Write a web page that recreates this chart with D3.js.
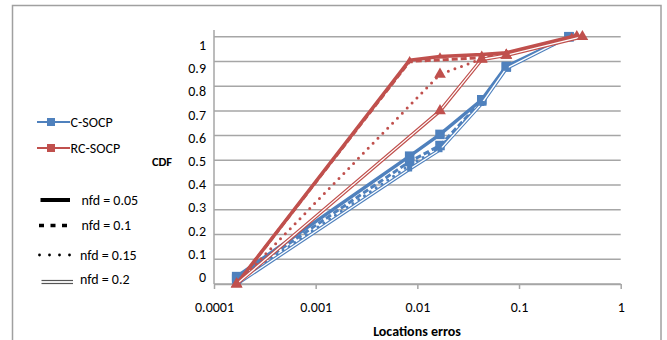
<!DOCTYPE html>
<html>
<head>
<meta charset="utf-8">
<script src="https://cdn.jsdelivr.net/npm/d3@7"></script>
<style>
  body { margin: 0; background: #fff; }
  svg text { font-family: Carlito, Calibri, Lato, "Liberation Sans", sans-serif; fill: #000; }
</style>
</head>
<body>
<svg id="chart"></svg>
<script>
// ---- data ----
const xTicks = [0.0001, 0.001, 0.01, 0.1, 1];
const xTickLabels = ["0.0001", "0.001", "0.01", "0.1", "1"];
const yTicks = [0, 0.1, 0.2, 0.3, 0.4, 0.5, 0.6, 0.7, 0.8, 0.9, 1];
const yTickLabels = ["0", "0.1", "0.2", "0.3", "0.4", "0.5", "0.6", "0.7", "0.8", "0.9", "1"];

const methods = ["C-SOCP", "RC-SOCP"];
const nfdLabels = ["nfd = 0.05", "nfd = 0.1", "nfd = 0.15", "nfd = 0.2"];

// C-SOCP (blue): error values and CDF per nfd
const cSocpErr = [0.000167, 0.0084, 0.0167, 0.043, 0.075, 0.31];
const cSocpCdf005 = [0.03, 0.517, 0.605, 0.745, 0.88, 1.0];
const cSocpCdf01 = [0.02, 0.495, 0.56, 0.74, 0.877, 1.0];
const cSocpCdf015 = [0.01, 0.48, 0.552, 0.735, 0.875, 1.0];
const cSocpCdf02 = [0.0, 0.465, 0.543, 0.73, 0.872, 1.0];

// RC-SOCP (red)
const rcSocpErr005 = [0.000167, 0.0084, 0.0167, 0.043, 0.075, 0.33];
const rcSocpCdf005 = [0, 0.905, 0.92, 0.928, 0.935, 1.0];
const rcSocpErr01 = [0.000167, 0.0084, 0.043, 0.075, 0.35];
const rcSocpCdf01 = [0, 0.9, 0.915, 0.93, 1.0];
const rcSocpErr015 = [0.000167, 0.0167, 0.043, 0.075, 0.37];
const rcSocpCdf015 = [0, 0.848, 0.91, 0.925, 1.0];
const rcSocpErr02 = [0.000167, 0.0167, 0.043, 0.075, 0.42];
const rcSocpCdf02 = [0, 0.70, 0.908, 0.925, 1.0];

const blue = "#4f81bd";
const red = "#c0504d";

const width = 667;
const height = 340;

const svg = d3.select("#chart")
              .attr("width", width)
              .attr("height", height);

// outer frame of the chart area
svg.append("rect")
    .attr("x", 12.5).attr("y", 5.5)
    .attr("width", 648.5).attr("height", 345)
    .attr("fill", "none")
    .attr("stroke", "#a0a0a0")
    .attr("stroke-width", 1.5);

const x = d3.scaleLog().domain([0.0001, 1]).range([214, 620.7]);
const y = d3.scaleLinear().domain([0, 1]).range([284, 36.7]);
// labels in the picture sit a little inside the grid lines
const yLab = d3.scaleLinear().domain([0, 1]).range([277, 45]);

// gridlines
svg.append("g")
    .selectAll("line")
    .data(yTicks)
    .enter()
    .append("line")
    .attr("x1", x(0.0001)).attr("x2", x(1))
    .attr("y1", d => y(d)).attr("y2", d => y(d))
    .attr("stroke", "#a6a6a6")
    .attr("stroke-width", 1.5);

// y axis line
svg.append("line")
    .attr("x1", x(0.0001)).attr("x2", x(0.0001))
    .attr("y1", y(1.027)).attr("y2", y(0))
    .attr("stroke", "#a6a6a6")
    .attr("stroke-width", 1.5);

// x axis with ticks pointing down
const xAxis = d3.axisBottom(x)
                .tickValues(xTicks)
                .tickFormat((d, i) => xTickLabels[i])
                .tickSize(5)
                .tickSizeOuter(0)
                .tickPadding(13);

const gx = svg.append("g")
    .attr("transform", `translate(0, ${y(0)})`)
    .call(xAxis);
gx.select(".domain").attr("stroke", "#a6a6a6").attr("stroke-width", 1.5);
gx.selectAll(".tick line").attr("stroke", "#a6a6a6").attr("stroke-width", 1.5);
gx.selectAll(".tick text")
    .attr("font-size", 14)
    .style("font-family", null);

// y tick labels
svg.append("g")
    .selectAll("text")
    .data(yTicks)
    .enter()
    .append("text")
    .attr("x", 206)
    .attr("y", d => yLab(d))
    .attr("dy", "0.35em")
    .attr("text-anchor", "end")
    .attr("font-size", 14)
    .text((d, i) => yTickLabels[i]);

// axis titles
svg.append("text")
    .attr("x", 162).attr("y", 162).attr("dy", "0.35em")
    .attr("text-anchor", "middle")
    .attr("font-size", 12.5)
    .attr("font-weight", "bold")
    .text("CDF");

svg.append("text")
    .attr("x", 417).attr("y", 331).attr("dy", "0.35em")
    .attr("text-anchor", "middle")
    .attr("font-size", 14)
    .attr("font-weight", "bold")
    .text("Locations erros");

// ---- series ----
const series = [
    {err: cSocpErr, cdf: cSocpCdf005, color: blue, style: "solid", marker: "square", size: 9.5},
    {err: cSocpErr, cdf: cSocpCdf01, color: blue, style: "dashed", marker: "square", size: 9.5},
    {err: cSocpErr, cdf: cSocpCdf015, color: blue, style: "dotted", marker: "square", size: 5},
    {err: cSocpErr, cdf: cSocpCdf02, color: blue, style: "double", marker: "square", size: 5},
    {err: rcSocpErr005, cdf: rcSocpCdf005, color: red, style: "solid", marker: "triangle", size: 7},
    {err: rcSocpErr01, cdf: rcSocpCdf01, color: red, style: "dashed", marker: "triangle", size: 6},
    {err: rcSocpErr015, cdf: rcSocpCdf015, color: red, style: "dotted", marker: "triangle", size: 11.5},
    {err: rcSocpErr02, cdf: rcSocpCdf02, color: red, style: "double", marker: "triangle", size: 11.5}
];

const line = d3.line()
               .x(d => x(d[0]))
               .y(d => y(d[1]));

const plot = svg.append("g");

series.forEach(s => {
    const pts = s.err.map((e, i) => [e, s.cdf[i]]);
    const g = plot.append("g");

    if (s.style === "double") {
        g.append("path").attr("d", line(pts))
            .attr("fill", "none").attr("stroke", s.color).attr("stroke-width", 3.6);
        g.append("path").attr("d", line(pts))
            .attr("fill", "none").attr("stroke", "#fff").attr("stroke-width", 1.3);
    } else {
        const p = g.append("path").attr("d", line(pts))
            .attr("fill", "none")
            .attr("stroke", s.color)
            .attr("stroke-linejoin", "round");
        if (s.style === "solid") p.attr("stroke-width", 3.5);
        if (s.style === "dashed") p.attr("stroke-width", 3).attr("stroke-dasharray", "6,3");
        if (s.style === "dotted") p.attr("stroke-width", 3).attr("stroke-dasharray", "0,7").attr("stroke-linecap", "round");
    }

    const sym = d3.symbol()
                  .type(s.marker === "square" ? d3.symbolSquare : d3.symbolTriangle)
                  .size(s.marker === "square" ? s.size * s.size : s.size * s.size * 0.45);

    g.selectAll(".mk")
        .data(pts)
        .enter()
        .append("path")
        .attr("d", sym)
        .attr("transform", d => `translate(${x(d[0])}, ${y(d[1])})`)
        .attr("fill", s.color);
});

// ---- legend ----
const legendY = [122, 148];
const legendColors = [blue, red];

methods.forEach((m, i) => {
    svg.append("line")
        .attr("x1", 37).attr("x2", 70)
        .attr("y1", legendY[i]).attr("y2", legendY[i])
        .attr("stroke", legendColors[i]).attr("stroke-width", 2);
    svg.append("rect")
        .attr("x", 47).attr("y", legendY[i] - 4)
        .attr("width", 8).attr("height", 8)
        .attr("fill", legendColors[i]);
    svg.append("text")
        .attr("x", 70.5).attr("y", legendY[i]).attr("dy", "0.35em")
        .attr("font-size", 14)
        .text(m);
});

const nfdY = [200, 225.5, 255, 279];
const nfdTextX = [81.5, 81.5, 80, 80];

// solid sample
svg.append("line")
    .attr("x1", 40.5).attr("x2", 70).attr("y1", nfdY[0]).attr("y2", nfdY[0])
    .attr("stroke", "#000").attr("stroke-width", 4);
// dashed sample
svg.append("line")
    .attr("x1", 39).attr("x2", 73).attr("y1", nfdY[1]).attr("y2", nfdY[1])
    .attr("stroke", "#000").attr("stroke-width", 3.3).attr("stroke-dasharray", "5,6.5");
// dotted sample
svg.append("line")
    .attr("x1", 39.5).attr("x2", 71).attr("y1", nfdY[2]).attr("y2", nfdY[2])
    .attr("stroke", "#000").attr("stroke-width", 2.8)
    .attr("stroke-dasharray", "0,10").attr("stroke-linecap", "round");
// double sample
[nfdY[3] + 1.5, nfdY[3] + 4.5].forEach(yy => {
    svg.append("line")
        .attr("x1", 41.5).attr("x2", 73).attr("y1", yy).attr("y2", yy)
        .attr("stroke", "#555").attr("stroke-width", 1.2);
});

svg.append("g")
    .selectAll("text")
    .data(nfdLabels)
    .enter()
    .append("text")
    .attr("x", (d, i) => nfdTextX[i])
    .attr("y", (d, i) => nfdY[i])
    .attr("dy", "0.35em")
    .attr("font-size", 14)
    .text(d => d);
</script>
</body>
</html>
